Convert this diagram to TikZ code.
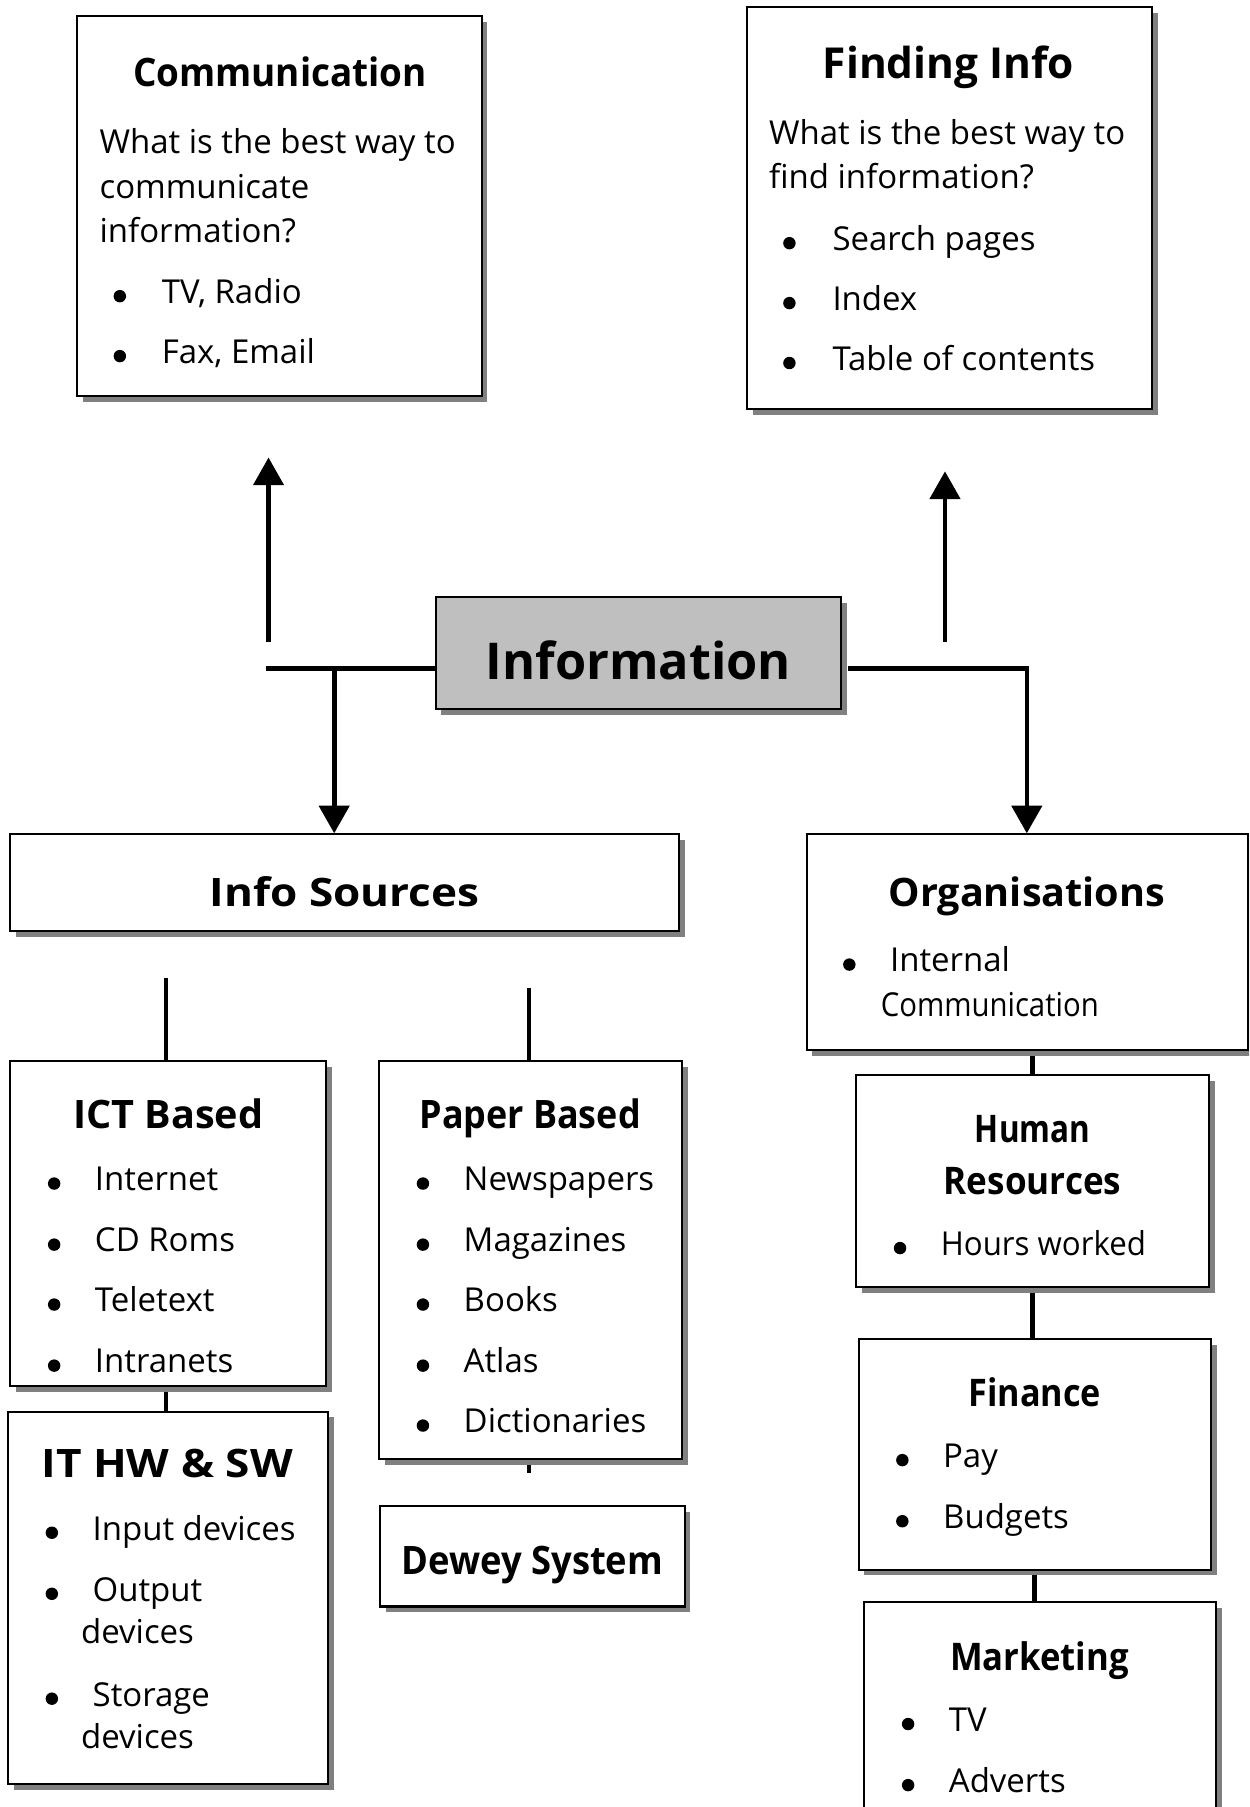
\documentclass[tikz,border=0pt]{standalone}
\usepackage{fontspec}
\setmainfont{Open Sans}
\usetikzlibrary{arrows.meta,shadows,backgrounds}
\tikzset{
  x=0.5pt, y=-0.5pt,
  box/.style={draw=black, line width=0.9pt, fill=white, inner sep=0pt,
    drop shadow={shadow xshift=2.5pt, shadow yshift=-2.5pt, fill=black!50, opacity=1}},
  infobox/.style={fill=black!25},
  ttl/.style={font=\fontsize{17}{20}\selectfont\bfseries, inner sep=0pt, anchor=mid},
  sttl/.style={ttl, font=\fontsize{16.5}{19}\selectfont\bfseries},
  txt/.style={font=\fontsize{14.3}{17}\selectfont, inner sep=0pt, anchor=mid west},
  hline/.style={line width=2.2pt},
  conn/.style={line width=2.1pt},
  arr/.style={line width=2pt, -{Triangle[width=13pt,length=12pt]}},
}
\newcommand\mkbox[6][]{\node[box,#1,minimum width={(#5-#3)*0.5pt},minimum height={(#6-#4)*0.5pt}] (#2) at ({(#3+#5)/2},{(#4+#6)/2}) {};}
\newcommand\bul[2]{\fill (#1,#2) circle[radius=2.7pt];}
\newcommand\tw[2]{\resizebox{#1pt}{\height}{#2}}
\begin{document}
\begin{tikzpicture}
\useasboundingbox (0,0) rectangle (1084,1568);
\clip (0,0) rectangle (1084,1568);
% boxes
\mkbox{comm}{67}{14}{418}{344}
\mkbox{find}{648}{6}{1000}{355}
\mkbox[infobox]{info}{378}{518}{730}{615}
\mkbox{isrc}{9}{724}{589}{808}
\mkbox{org}{700}{724}{1083}{911}
\mkbox{ict}{9}{921}{283}{1203}
\mkbox{ithw}{7}{1225}{285}{1548}
\mkbox{paper}{329}{921}{592}{1266}
\mkbox{dewey}{330}{1307}{594}{1394}
\mkbox{hr}{743}{933}{1049}{1117}
\mkbox{fin}{745}{1162}{1051}{1362}
\mkbox{mkt}{750}{1390}{1055}{1640}
% connectors
\coordinate (lj) at (231,580);
\coordinate (ldn) at (290,580);
\coordinate (lup) at (233,557);
\coordinate (lupend) at (233,397);
\coordinate (rj) at (891,580);
\coordinate (rup) at (820,557);
\coordinate (rupend) at (820,409);
\coordinate (ictt) at (144,849);
\coordinate (papt) at (459,857);
\coordinate (papstub) at (459,1278);
\begin{pgfonlayer}{background}
\draw[hline] (lj) -- (lj -| info.west);
\draw[hline] ([xshift=2.5pt]info.east |- rj) -- ([xshift=1pt]rj);
\draw[arr] (ldn) -- (ldn |- isrc.north);
\draw[arr] (rj) -- (rj |- org.north);
\draw[arr] (lup) -- (lupend);
\draw[arr] (rup) -- (rupend);
\draw[conn] (ictt) -- (ictt |- ict.north);
\draw[conn] (papt) -- (papt |- paper.north);
\draw[conn] (ictt |- ict.south) -- (ictt |- ithw.north);
\draw[conn] (papt |- paper.south) -- (papstub);
\draw[conn] (hr.north) -- (hr.north |- org.south);
\draw[conn] (hr.south) -- (hr.south |- fin.north);
\draw[conn] (fin.south) -- (fin.south |- mkt.north);
\end{pgfonlayer}
% titles
\node[ttl] (commT) at (243,70) {\tw{127.5}{Communication}};
\node[ttl, font=\fontsize{18.5}{22}\selectfont\bfseries] (findT) at (823,63) {\tw{109}{Finding Info}};
\node[ttl, font=\fontsize{22}{26}\selectfont\bfseries] (infoT) at (554,584) {\tw{132.5}{Information}};
\node[ttl] (isrcT) at (299,781) {\tw{117}{Info Sources}};
\node[ttl] (orgT) at (891,781) {\tw{120}{Organisations}};
\node[ttl] (ictT) at (146,974) {\tw{82.5}{ICT Based}};
\node[ttl] (ithwT) at (145,1277) {\tw{109}{IT HW \& SW}};
\node[ttl] (paperT) at (460,974) {\tw{96}{Paper Based}};
\node[ttl] (deweyT) at (462,1361) {\tw{113.5}{Dewey System}};
\node[sttl] (hrT1) at (896,986) {\tw{50}{Human}};
\node[sttl] (hrT2) at (896,1031) {\tw{77}{Resources}};
\node[sttl] (finT) at (898,1215) {\tw{57.5}{Finance}};
\node[sttl] (mktT) at (902,1444) {\tw{77.5}{Marketing}};
% communication
\node[txt] (c1) at (86,128) {What is the best way to};
\node[txt] (c2) at (86,167) {communicate};
\node[txt] (c3) at (86,205) {information?};
\bul{104}{257}\node[txt] (c4) at (140,258) {TV, Radio};
\bul{104}{309}\node[txt] (c5) at (140,310) {Fax, Email};
% finding
\node[txt] (f1) at (667,120) {What is the best way to};
\node[txt] (f2) at (667,158) {find information?};
\bul{685}{211}\node[txt] (f3) at (722,212) {Search pages};
\bul{685}{263}\node[txt] (f4) at (722,264) {Index};
\bul{685}{315}\node[txt] (f5) at (722,316) {Table of contents};
% organisations
\bul{737}{837}\node[txt] (o1) at (772,838) {Internal};
\node[txt] (o2) at (764,877) {\tw{94.5}{Communication}};
% ict
\bul{47}{1027}\node[txt] (i1) at (82,1028) {Internet};
\bul{47}{1080}\node[txt] (i2) at (82,1081) {CD Roms};
\bul{47}{1132}\node[txt] (i3) at (82,1133) {Teletext};
\bul{47}{1185}\node[txt] (i4) at (82,1186) {Intranets};
% it hw sw
\bul{45}{1330}\node[txt] (h1) at (80,1331) {Input devices};
\bul{45}{1383}\node[txt] (h2) at (80,1384) {Output};
\node[txt] (h3) at (70,1421) {devices};
\bul{45}{1474}\node[txt] (h4) at (80,1475) {Storage};
\node[txt] (h5) at (70,1512) {devices};
% paper
\bul{367}{1027}\node[txt] (p1) at (402,1028) {Newspapers};
\bul{367}{1080}\node[txt] (p2) at (402,1081) {Magazines};
\bul{367}{1132}\node[txt] (p3) at (402,1133) {Books};
\bul{367}{1185}\node[txt] (p4) at (402,1186) {Atlas};
\bul{367}{1237}\node[txt] (p5) at (402,1238) {Dictionaries};
% hr
\bul{781}{1083}\node[txt] (r1) at (816,1084) {\tw{89}{Hours worked}};
% finance
\bul{783}{1267}\node[txt] (n1) at (818,1268) {Pay};
\bul{783}{1320}\node[txt] (n2) at (818,1321) {Budgets};
% marketing
\bul{788}{1496}\node[txt] (m1) at (823,1497) {TV};
\bul{788}{1549}\node[txt] (m2) at (823,1550) {Adverts};
\end{tikzpicture}
\end{document}
